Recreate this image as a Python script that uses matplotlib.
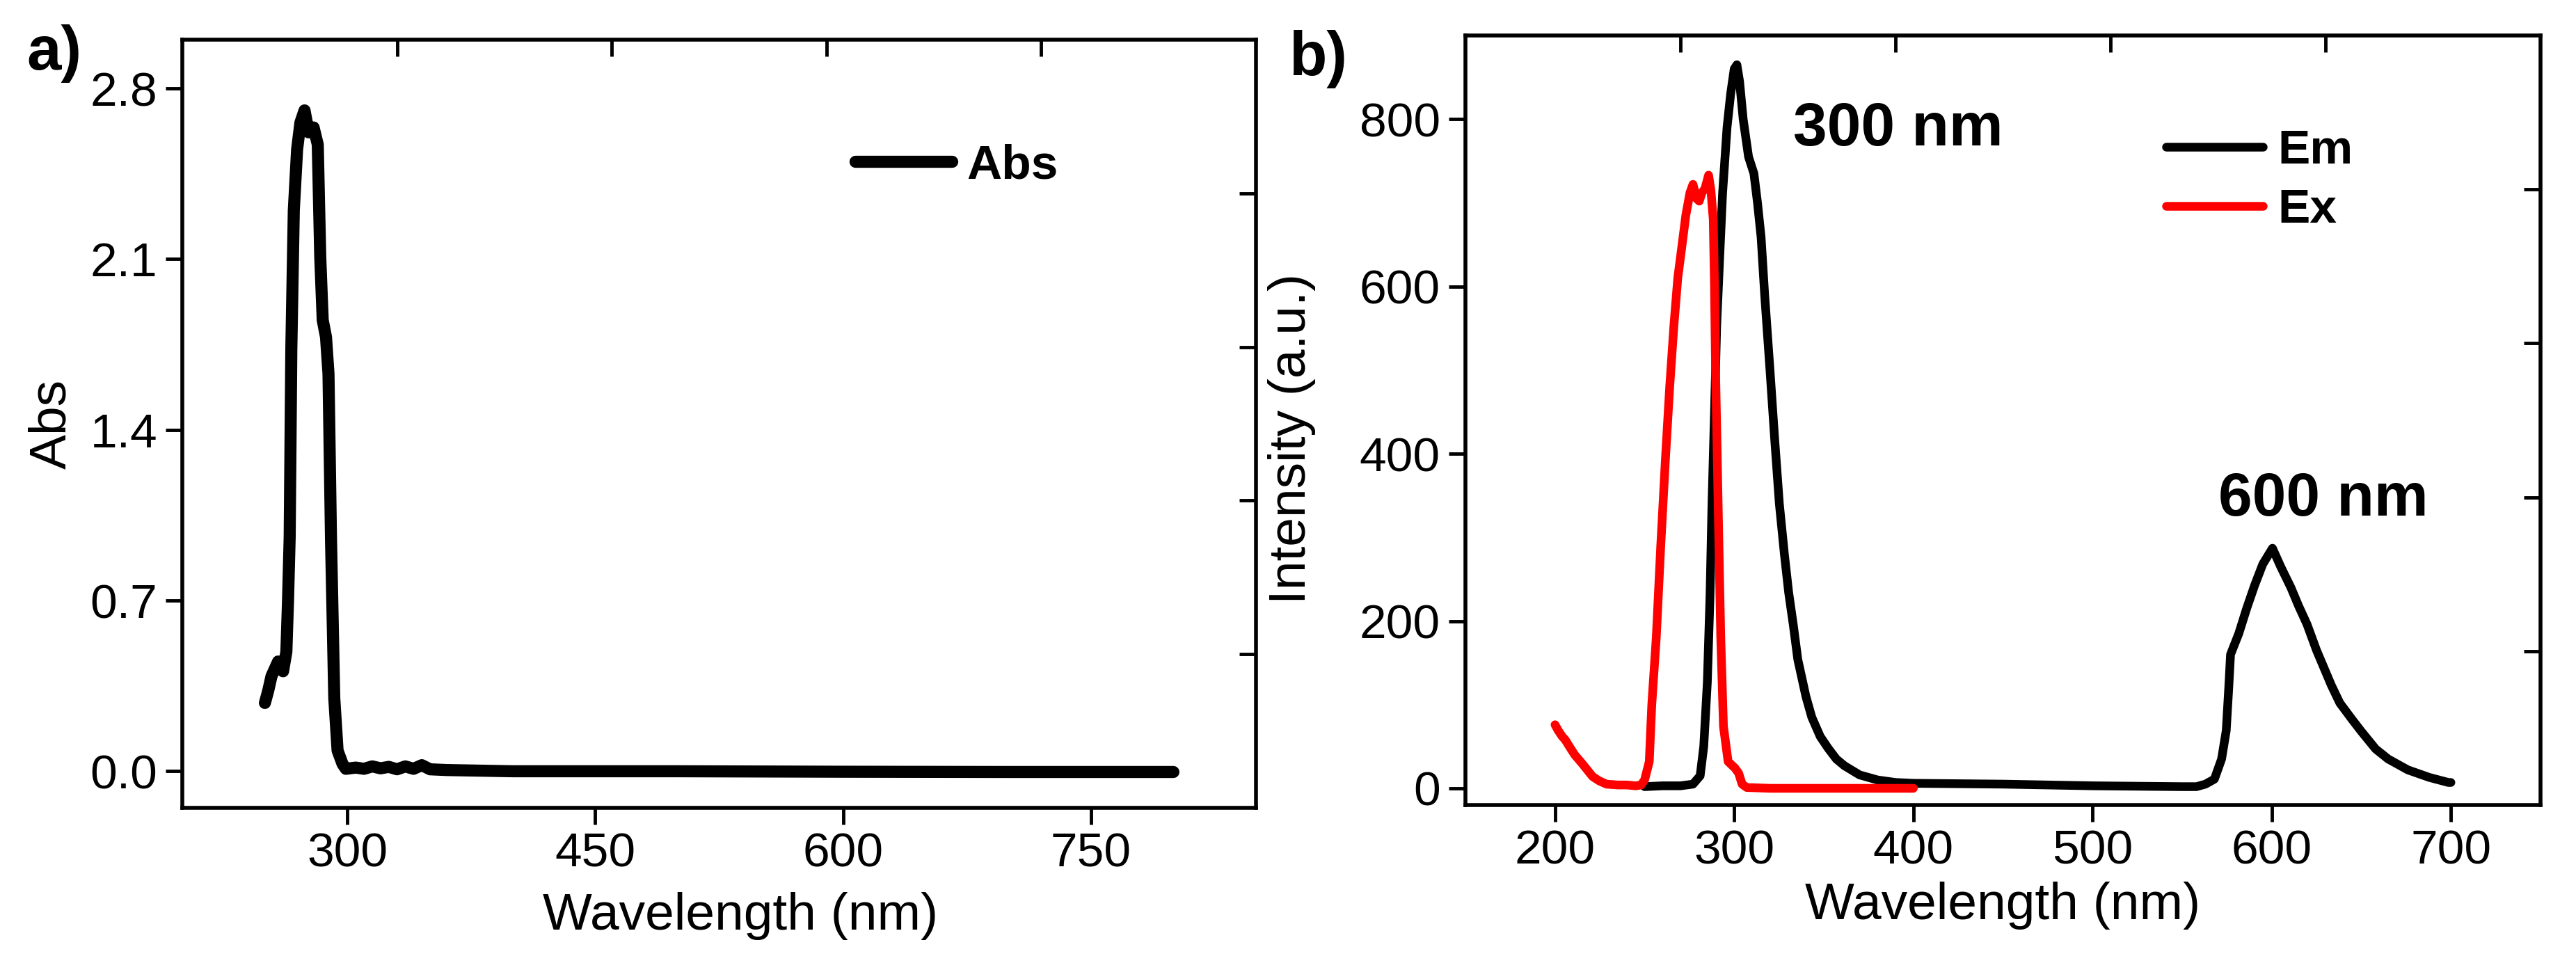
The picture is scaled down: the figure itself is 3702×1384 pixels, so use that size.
import numpy as np
import matplotlib
matplotlib.use("Agg")
import matplotlib.pyplot as plt
from matplotlib.ticker import FormatStrFormatter

plt.rcParams['font.family'] = ['Liberation Sans', 'DejaVu Sans']

# ---- data ----
abs_nm = [250, 252, 254, 256, 258, 260, 261, 262, 263, 264, 265, 266, 267.5, 269.5,
          271.5, 274, 276.5, 279.5, 282, 283.5, 285, 287, 288.5, 290, 292, 294,
          297, 299, 305, 310, 315, 320, 325, 330, 335, 340, 345, 350, 360, 400,
          500, 600, 700, 800]
abs_val = [0.28, 0.33, 0.39, 0.42, 0.45, 0.44, 0.41, 0.45, 0.49, 0.70, 0.96, 1.73,
           2.30, 2.55, 2.66, 2.71, 2.62, 2.64, 2.57, 2.11, 1.85, 1.78, 1.63, 0.96,
           0.30, 0.085, 0.03, 0.01, 0.015, 0.01, 0.02, 0.012, 0.018, 0.008, 0.02,
           0.01, 0.025, 0.008, 0.005, 0.0, 0.0, -0.002, -0.003, -0.003]

em_nm = [250, 260, 270, 277, 281, 283, 285, 286.5, 287.6, 289, 290.2, 292, 293.5,
         296, 298, 300, 301.5, 303, 305, 308, 311, 313, 315, 317, 320, 322.5,
         325.2, 328, 330.4, 333, 335.5, 340, 343.3, 348, 352.4, 357, 361.5, 370,
         380, 390, 400, 450, 500, 550, 558, 563, 568, 572, 574.6, 576, 577,
         581.6, 586, 590.5, 595, 600.4, 605, 610.7, 615, 619.7, 625, 633.3, 638,
         644.6, 650, 658, 665, 676, 688, 698.6, 700]
em_val = [2, 3, 3, 5, 15, 50, 127, 230, 340, 450, 552, 640, 711, 790, 830, 860,
          865, 845, 800, 755, 735, 700, 659, 590, 499, 420, 340, 280, 234, 195,
          154, 110, 85, 62, 48, 35, 27, 16, 10, 7, 6, 5, 3, 2, 2, 5, 11, 35, 69,
          120, 160, 185, 215, 243, 268, 287, 265, 240, 218, 196, 165, 123, 102,
          83, 68, 47, 35, 22, 13, 7, 7]

ex_nm = [200, 201.8, 204, 205.7, 208, 211, 215, 218, 221, 224.6, 228.7, 235, 240,
         245, 248, 250, 252.6, 254, 256.5, 259, 261.6, 264, 266.3, 268.5, 270.8,
         273, 275.3, 277, 279, 280.5, 282, 283.7, 285.7, 287, 288.3, 289, 289.6,
         290.5, 291.5, 292.5, 294, 296.6, 300.5, 302.5, 304.4, 307, 320, 350,
         380, 400]
ex_val = [76, 69, 62, 58, 50, 40, 30, 22, 14, 9, 5, 4, 4, 3, 4, 10, 32, 100, 180,
          290, 393, 480, 552, 610, 648, 685, 712, 722, 705, 702, 712, 717, 733,
          715, 680, 600, 499, 400, 287, 180, 74, 32, 24, 18, 5, 1, 0, 0, 0, 0]

abs_yticks = [0.0, 0.7, 1.4, 2.1, 2.8]
abs_xticks = [300, 450, 600, 750]
pl_yticks = [0, 200, 400, 600, 800]
pl_xticks = [200, 300, 400, 500, 600, 700]

W, H = 3702, 1384
fig = plt.figure(figsize=(W / 100, H / 100), dpi=100)

TICK_FS = 50
LABEL_FS = 54
SPINE_LW = 4


def style_axes(ax):
    for s in ax.spines.values():
        s.set_linewidth(SPINE_LW)
    ax.tick_params(axis='both', which='major', direction='out', length=17,
                   width=3.5, labelsize=TICK_FS, top=False, right=False)
    ax.tick_params(axis='x', pad=8)
    ax.tick_params(axis='y', pad=9)


def add_box_ticks(ax):
    # Origin-style unlabeled top/right ticks at fifths of the frame
    ov = fig.add_axes(ax.get_position(), frameon=False)
    ov.set_xlim(0, 1)
    ov.set_ylim(0, 1)
    ov.set_xticks([0.2, 0.4, 0.6, 0.8])
    ov.set_yticks([0.2, 0.4, 0.6, 0.8])
    ov.tick_params(direction='in', length=17, width=3.5, top=True, right=True,
                   bottom=False, left=False, labelbottom=False, labelleft=False)
    ov.set_zorder(ax.get_zorder() + 1)


# ---- panel a ----
axa = fig.add_axes([262 / W, 1 - 1161 / H, 1543 / W, 1104 / H])
axa.plot(abs_nm, abs_val, color='black', lw=12.5, solid_capstyle='round',
         solid_joinstyle='round', label='Abs')
axa.set_xlim(200, 850)
axa.set_ylim(-0.15, 3.0)
axa.set_xticks(abs_xticks)
axa.set_yticks(abs_yticks)
axa.yaxis.set_major_formatter(FormatStrFormatter('%.1f'))
style_axes(axa)
axa.set_xlabel('Wavelength (nm)', fontsize=LABEL_FS, labelpad=8)
axa.set_ylabel('Abs', fontsize=LABEL_FS, labelpad=14)
axa.xaxis.set_label_coords(0.52, -0.11)
axa.legend(loc='center left', bbox_to_anchor=(0.627, 0.836), frameon=False,
           handlelength=2.0, handletextpad=0.3, borderpad=0,
           borderaxespad=0, prop={'weight': 'bold', 'size': 50})
add_box_ticks(axa)

# ---- panel b ----
axb = fig.add_axes([2106 / W, 1 - 1157 / H, 1545 / W, 1106 / H])
axb.plot(em_nm, em_val, color='black', lw=9, solid_capstyle='round',
         solid_joinstyle='round', label='Em')
axb.plot(ex_nm, ex_val, color='#ff0000', lw=9, solid_capstyle='round',
         solid_joinstyle='round', label='Ex')
axb.set_xlim(150, 750)
axb.set_ylim(-20, 900)
axb.set_xticks(pl_xticks)
axb.set_yticks(pl_yticks)
style_axes(axb)
axb.set_xlabel('Wavelength (nm)', fontsize=LABEL_FS, labelpad=8)
axb.set_ylabel('Intensity (a.u.)', fontsize=LABEL_FS)
axb.yaxis.set_label_coords(-0.139, 0.476)
axb.legend(loc='center left', bbox_to_anchor=(0.652, 0.8115), frameon=False,
           handlelength=2.0, handletextpad=0.3, borderpad=0, borderaxespad=0,
           labelspacing=0.3, prop={'weight': 'bold', 'size': 50})
axb.text(333, 787, '300 nm', fontsize=63, fontweight='bold', ha='left', va='center')
axb.text(570, 345, '600 nm', fontsize=63, fontweight='bold', ha='left', va='center')
add_box_ticks(axb)

# panel letters
fig.text(38 / W, 1 - 100 / H, 'a)', fontsize=64, fontweight='bold', va='baseline')
fig.text(1852 / W, 1 - 108 / H, 'b)', fontsize=64, fontweight='bold', va='baseline')

fig.savefig('out.png', dpi=100, facecolor='white')
